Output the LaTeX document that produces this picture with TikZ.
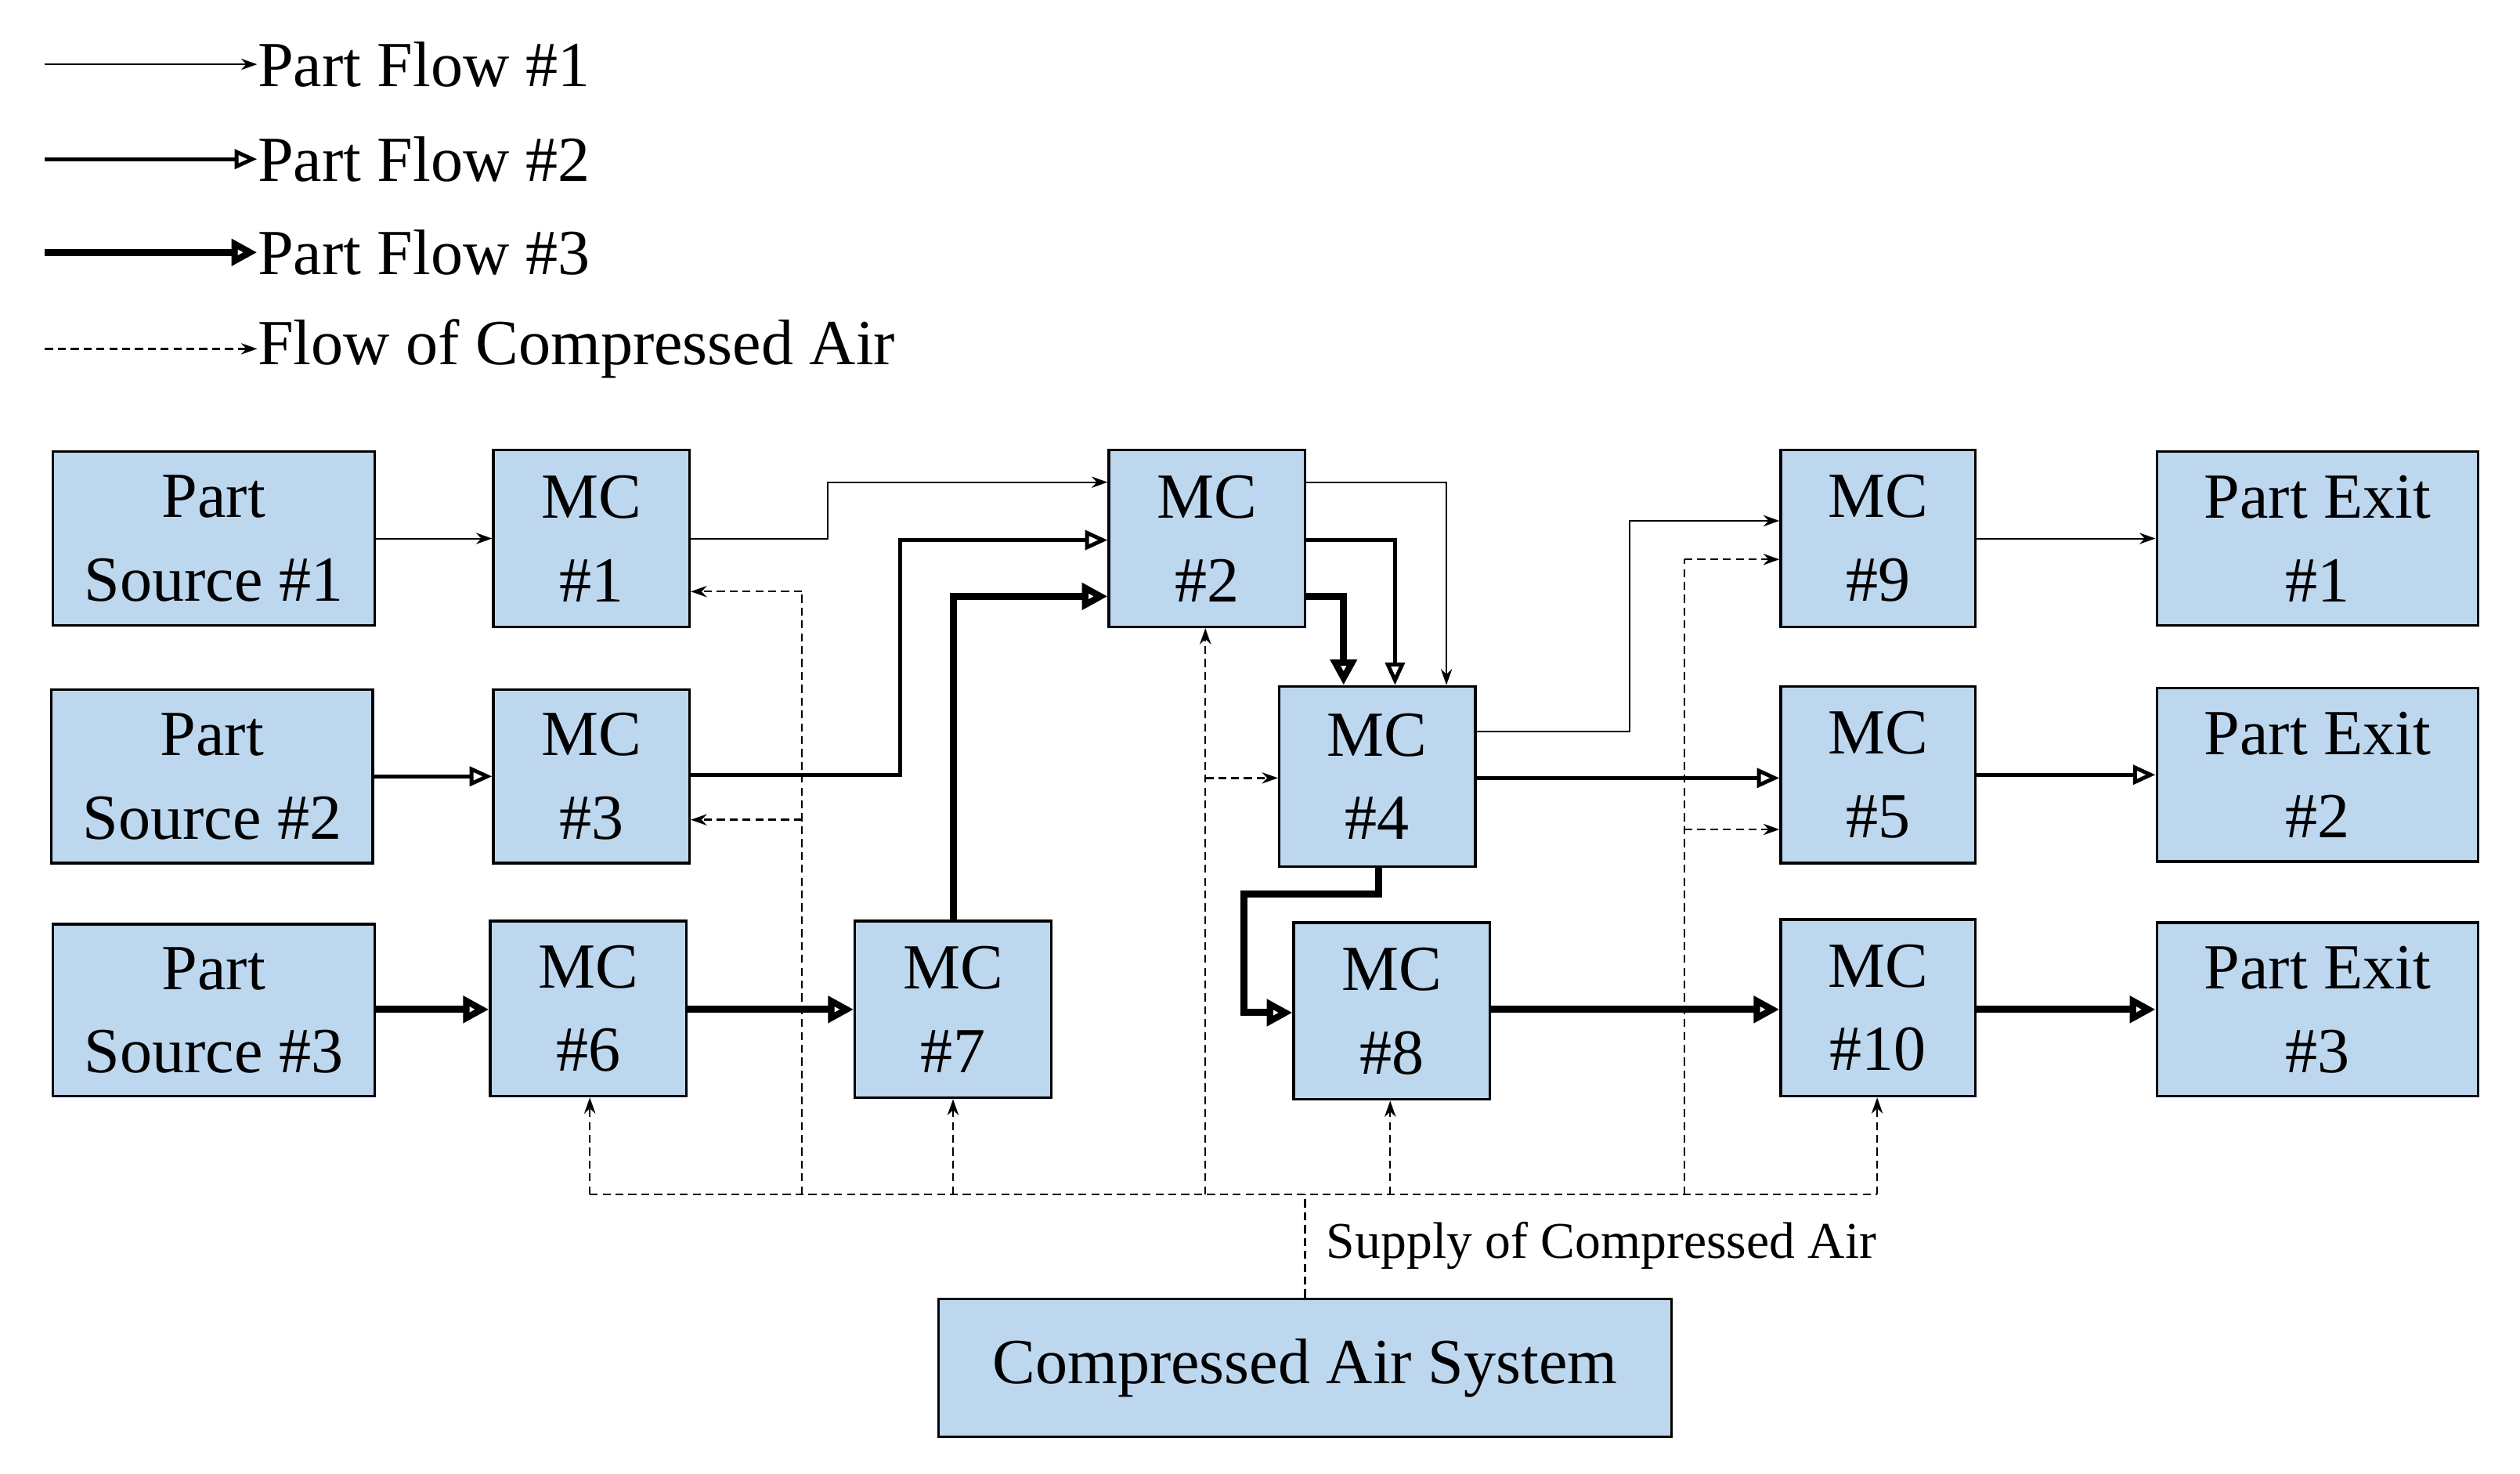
\documentclass[tikz,border=0pt]{standalone}
\usepackage{fontspec}
\setmainfont{Liberation Serif}
\usetikzlibrary{arrows.meta}
\definecolor{boxblue}{RGB}{189,215,238}
\begin{document}
\begin{tikzpicture}[x=0.5pt,y=-0.5pt,
  box/.style={draw=black,line width=0.8pt,fill=boxblue,inner sep=0pt,align=center,font=\fontsize{20}{26}\selectfont},
  f1/.style={line width=0.5pt,-{Stealth[length=5pt,width=3.5pt]}},
  f2/.style={line width=1.2pt,-{Stealth[length=7pt,width=6pt,inset=0pt,open]}},
  f3/.style={line width=2.2pt,-{Stealth[length=8pt,width=8pt,inset=0pt,open]}},
  fa/.style={line width=0.6pt,dashed,dash pattern=on 2.5pt off 1.5pt,-{Stealth[length=5pt,width=3.5pt]}},
  fl/.style={line width=0.6pt,dashed,dash pattern=on 2.5pt off 1.5pt},
  lg/.style={anchor=west,inner sep=0pt,font=\fontsize{20}{24}\selectfont}]
\useasboundingbox[fill=white] (0,0) rectangle (1568,917);
% legend
\coordinate (l1a) at (28,40); \node[lg] (l1) at (160,40) {Part Flow \#1};
\coordinate (l2a) at (28,99); \node[lg] (l2) at (160,99) {Part Flow \#2};
\coordinate (l3a) at (28,157); \node[lg] (l3) at (160,157) {Part Flow \#3};
\coordinate (l4a) at (28,217); \node[lg] (l4) at (160,217) {Flow of Compressed Air};
\draw[f1] (l1a) -- (l1.west);
\draw[f2] (l2a) -- (l2.west);
\draw[f3] (l3a) -- (l3.west);
\draw[fa] (l4a) -- (l4.west);
% boxes
\newcommand{\bx}[7]{\node[box,minimum width={(#4-#2)*0.5pt},minimum height={(#5-#3)*0.5pt}] (#1) at ({(#2+#4)/2},{(#3+#5)/2}) {#6};}
\bx{ps1}{33}{281}{233}{389}{Part\\Source \#1}{}
\bx{ps2}{32}{429}{232}{537}{Part\\Source \#2}{}
\bx{ps3}{33}{575}{233}{682}{Part\\Source \#3}{}
\bx{mc1}{307}{280}{429}{390}{MC\\\#1}{}
\bx{mc3}{307}{429}{429}{537}{MC\\\#3}{}
\bx{mc6}{305}{573}{427}{682}{MC\\\#6}{}
\bx{mc7}{532}{573}{654}{683}{MC\\\#7}{}
\bx{mc2}{690}{280}{812}{390}{MC\\\#2}{}
\bx{mc4}{796}{427}{918}{539}{MC\\\#4}{}
\bx{mc8}{805}{574}{927}{684}{MC\\\#8}{}
\bx{mc9}{1108}{280}{1229}{390}{MC\\\#9}{}
\bx{mc5}{1108}{427}{1229}{537}{MC\\\#5}{}
\bx{mc10}{1108}{572}{1229}{682}{MC\\\#10}{}
\bx{pe1}{1342}{281}{1542}{389}{Part Exit\\\#1}{}
\bx{pe2}{1342}{428}{1542}{536}{Part Exit\\\#2}{}
\bx{pe3}{1342}{574}{1542}{682}{Part Exit\\\#3}{}
\bx{cas}{584}{808}{1040}{894}{Compressed Air System}{}
% flow 1
\draw[f1] (ps1.east) -- (mc1.west);
\draw[f1] (mc1.east) -- (515,335) |- (mc2.west |- 0,300);
\draw[f1] (mc2.east |- 0,300) -| (mc4.north -| 900,0);
\draw[f1] (mc4.east |- 0,455) -- (1014,455) |- (mc9.west |- 0,324);
\draw[f1] (mc9.east) -- (pe1.west);
% flow 2
\draw[f2] (ps2.east) -- (mc3.west);
\draw[f2] (mc3.east |- 0,482) -- (560,482) |- (mc2.west |- 0,336);
\draw[f2] (mc2.east |- 0,336) -| (mc4.north -| 868,0);
\draw[f2] (mc4.east |- 0,484) -- (mc5.west |- 0,484);
\draw[f2] (mc5.east) -- (pe2.west);
% flow 3
\draw[f3] (ps3.east |- 0,628) -- (mc6.west |- 0,628);
\draw[f3] (mc6.east |- 0,628) -- (mc7.west |- 0,628);
\draw[f3] (mc7.north) |- (mc2.west |- 0,371);
\draw[f3] (mc2.east |- 0,371) -| (mc4.north -| 836,0);
\draw[f3] (mc4.south -| 858,0) -- (858,556) -| (774,630) -- (mc8.west |- 0,630);
\draw[f3] (mc8.east |- 0,628) -- (mc10.west |- 0,628);
\draw[f3] (mc10.east |- 0,628) -- (pe3.west |- 0,628);
% air
\draw[fl] (cas.north -| 812,0) -- (812,743);
\draw[fl] (367,743) -- (1168,743);
\draw[fa] (367,743) -- (mc6.south -| 367,0);
\draw[fa] (593,743) -- (mc7.south);
\draw[fa] (750,743) -- (mc2.south -| 750,0);
\draw[fa] (865,743) -- (mc8.south -| 865,0);
\draw[fa] (1168,743) -- (mc10.south -| 1168,0);
\draw[fl] (499,743) -- (499,368);
\draw[fa] (499,368) -- (mc1.east |- 0,368);
\draw[fa] (499,510) -- (mc3.east |- 0,510);
\draw[fa] (750,484) -- (mc4.west |- 0,484);
\draw[fl] (1048,743) -- (1048,348);
\draw[fa] (1048,348) -- (mc9.west |- 0,348);
\draw[fa] (1048,516) -- (mc5.west |- 0,516);
\node[anchor=west,inner sep=0pt,font=\fontsize{16}{18}\selectfont] (sup) at (825,775) {Supply of Compressed Air};
\end{tikzpicture}
\end{document}
